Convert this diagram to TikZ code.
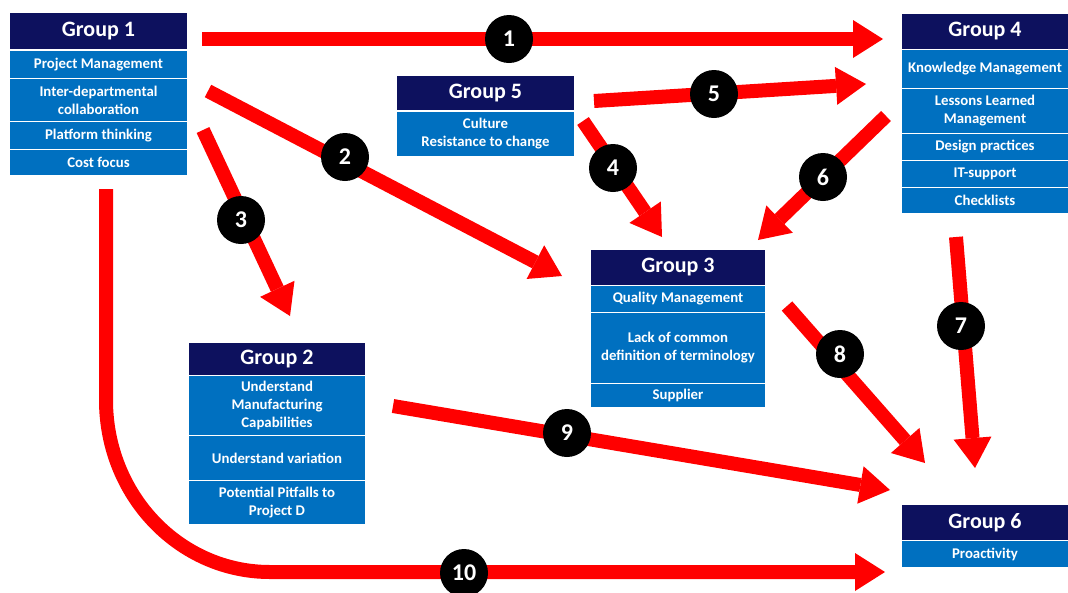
\documentclass[tikz,border=0pt]{standalone}
\usepackage{fontspec}
\setmainfont{Carlito}
\usetikzlibrary{arrows.meta}
\definecolor{navy}{RGB}{13,17,94}
\definecolor{itemblue}{RGB}{0,112,192}
\definecolor{arrowred}{RGB}{255,0,0}
\begin{document}
\begin{tikzpicture}[x=1pt,y=-1pt,
  cell/.style={anchor=north west, inner sep=0pt, draw=white, line width=1pt,
    text=white, align=center},
  hdr/.style={cell, fill=navy, font=\bfseries\fontsize{22}{24}\selectfont},
  item/.style={cell, fill=itemblue, font=\bfseries\fontsize{14.8}{18}\selectfont},
  arr/.style={draw=arrowred, line width=14pt,
    -{Triangle[length=30pt,width=38pt,line width=0pt]}},
  badge/.style={circle, fill=black, minimum size=48pt, inner sep=0pt,
    text=white, font=\bfseries\fontsize{24}{24}\selectfont}]
\useasboundingbox (0,0) rectangle (1068,592);
\fill[white] (0,0) rectangle (1068,592);

% ---- Group 1
\node[hdr,  minimum width=178pt, minimum height=37pt] (g1)  at (9,12)  {Group 1};
\node[item, minimum width=178pt, minimum height=28pt] (g1a) at (9,50)  {Project Management};
\node[item, minimum width=178pt, minimum height=43pt] (g1b) at (9,78)  {Inter-departmental\\collaboration};
\node[item, minimum width=178pt, minimum height=28pt] (g1c) at (9,121) {Platform thinking};
\node[item, minimum width=178pt, minimum height=26pt] (g1d) at (9,149) {Cost focus};

% ---- Group 5
\node[hdr,  minimum width=178pt, minimum height=35pt] (g5)  at (396,75)  {Group 5};
\node[item, minimum width=178pt, minimum height=45pt] (g5a) at (396,111) {Culture\\Resistance to change};

% ---- Group 4
\node[hdr,  minimum width=167pt, minimum height=36pt] (g4)  at (901,13)  {Group 4};
\node[item, minimum width=167pt, minimum height=39pt] (g4a) at (901,49)  {Knowledge Management};
\node[item, minimum width=167pt, minimum height=45pt] (g4b) at (901,88)  {Lessons Learned\\Management};
\node[item, minimum width=167pt, minimum height=27pt] (g4c) at (901,133) {Design practices};
\node[item, minimum width=167pt, minimum height=27pt] (g4d) at (901,160) {IT-support};
\node[item, minimum width=167pt, minimum height=26pt] (g4e) at (901,187) {Checklists};

% ---- Group 3
\node[hdr,  minimum width=175pt, minimum height=36pt] (g3)  at (590,249) {Group 3};
\node[item, minimum width=175pt, minimum height=27pt] (g3a) at (590,285) {Quality Management};
\node[item, minimum width=175pt, minimum height=71pt] (g3b) at (590,312) {Lack of common\\definition of terminology};
\node[item, minimum width=175pt, minimum height=24pt] (g3c) at (590,383) {Supplier};

% ---- Group 2
\node[hdr,  minimum width=177pt, minimum height=33pt] (g2)  at (188,342) {Group 2};
\node[item, minimum width=177pt, minimum height=60pt] (g2a) at (188,375) {Understand\\Manufacturing\\Capabilities};
\node[item, minimum width=177pt, minimum height=45pt] (g2b) at (188,435) {Understand variation};
\node[item, minimum width=177pt, minimum height=44pt] (g2c) at (188,480) {Potential Pitfalls to\\Project D};

% ---- Group 6
\node[hdr,  minimum width=167pt, minimum height=36pt] (g6)  at (901,504) {Group 6};
\node[item, minimum width=167pt, minimum height=27pt] (g6a) at (901,540) {Proactivity};

% ---- arrow end points
\coordinate (s1) at (202,39);  \coordinate (e1) at (883,39);
\coordinate (s2) at (208,91);  \coordinate (e2) at (562,276);
\coordinate (s3) at (203,130); \coordinate (e3) at (290,316);
\coordinate (s4) at (583,121); \coordinate (e4) at (662,237);
\coordinate (s5) at (594,101); \coordinate (e5) at (866,84);
\coordinate (s6) at (886,116); \coordinate (e6) at (758,240);
\coordinate (s7) at (956,237); \coordinate (e7) at (975,468);
\coordinate (s8) at (787,306); \coordinate (e8) at (925,463);
\coordinate (s9) at (393,406); \coordinate (e9) at (890,490);
\coordinate (s10) at (106,189); \coordinate (b10) at (106,400);
\coordinate (c10) at (270,572); \coordinate (e10) at (885,572);

% ---- arrows
\draw[arr] (s1) -- (e1);
\draw[arr] (s2) -- (e2);
\draw[arr] (s3) -- (e3);
\draw[arr] (s4) -- (e4);
\draw[arr] (s5) -- (e5);
\draw[arr] (s6) -- (e6);
\draw[arr] (s7) -- (e7);
\draw[arr] (s8) -- (e8);
\draw[arr] (s9) -- (e9);
\draw[arr] (s10) -- (b10) .. controls (106,495) and (179,572) .. (c10) -- (e10);

% ---- numbered badges
\node[badge] (n1)  at (509,39)  {1};
\node[badge] (n2)  at (345,157) {2};
\node[badge] (n3)  at (241,220) {3};
\node[badge] (n4)  at (613,168) {4};
\node[badge] (n5)  at (714,94)  {5};
\node[badge] (n6)  at (823,177) {6};
\node[badge] (n7)  at (961,326) {7};
\node[badge] (n8)  at (840,354) {8};
\node[badge] (n9)  at (567,433) {9};
\node[badge] (n10) at (464,573) {10};
\end{tikzpicture}
\end{document}
